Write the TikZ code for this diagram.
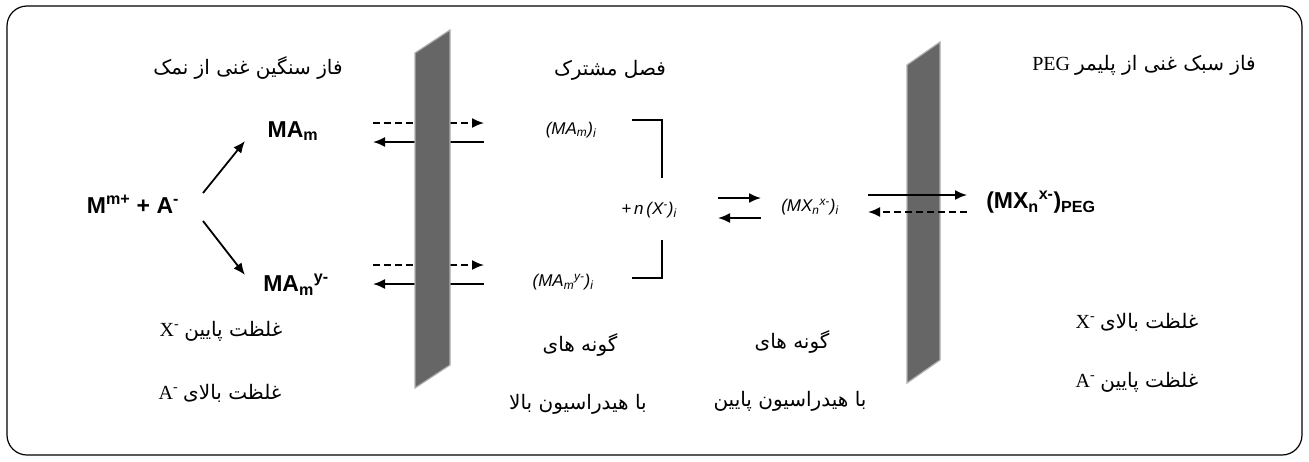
\documentclass[tikz,border=0pt]{standalone}
\usepackage{fontspec}
\setmainfont{Liberation Serif}
\setsansfont{Liberation Sans}
\newfontfamily\farsi[Script=Arabic]{DejaVu Sans}
\TeXXeTstate=1
\usetikzlibrary{arrows.meta}
\definecolor{wallgray}{RGB}{102,102,102}
\definecolor{walledge}{RGB}{175,175,175}
\newcommand{\fa}[1]{{\farsi\beginR #1\endR}}

\begin{document}
\begin{tikzpicture}
    [x=1pt,y=-1pt,
    chem/.style={font=\sffamily\bfseries\fontsize{23}{26}\selectfont},
    iface/.style={font=\sffamily\itshape\fontsize{17}{20}\selectfont},
    fatext/.style={font=\fontsize{20}{24}\selectfont},
    rxn/.style={-{Latex[length=12pt,width=10pt]},line width=1.8pt},
    back/.style={rxn,dash pattern=on 7pt off 4pt},
    wall/.style={fill=wallgray,draw=walledge,line width=1.2pt}]

    \useasboundingbox (0,0) rectangle (1309,461);
    \draw[line width=1.2pt,rounded corners=20pt] (7,6) rectangle (1302,455);

    % phase titles
    \node[fatext] (heavy) at (248,68) {\fa{فاز سنگین غنی از نمک}};
    \node[fatext] (interface) at (610,70) {\fa{فصل مشترک}};
    \node[fatext] (light) at (1144,65) {PEG~\fa{فاز سبک غنی از پلیمر}};

    % salt-rich phase
    \node[chem] (salt) at (133,204) {M\textsuperscript{m+} + A\textsuperscript{-}};
    \node[chem] (mam) at (293,131) {MA\textsubscript{m}};
    \node[chem] (may) at (296,285) {MA\textsubscript{m}\textsuperscript{y-}};
    \coordinate (s1) at (203,193); \coordinate (up) at (245,141);
    \coordinate (s2) at (203,221); \coordinate (down) at (245,275);
    \draw[rxn] (s1) -- (up);
    \draw[rxn] (s2) -- (down);

    % transfer across the first wall
    \coordinate (a1) at (373,123); \coordinate (b1) at (484,123);
    \coordinate (a2) at (373,142); \coordinate (b2) at (484,142);
    \coordinate (a3) at (373,265); \coordinate (b3) at (484,265);
    \coordinate (a4) at (373,284); \coordinate (b4) at (484,284);
    \draw[back] (a1) -- (b1);
    \draw[rxn] (b2) -- (a2);
    \draw[back] (a3) -- (b3);
    \draw[rxn] (b4) -- (a4);
    \draw[wall] (415,53) -- (450,30) -- (450,365) -- (415,388) -- cycle;

    % interface
    \node[iface] (ifa) at (571,130) {(MA\textsubscript{m})\textsubscript{i}};
    \node[iface] (ifb) at (563,282) {(MA\textsubscript{m}\textsuperscript{y-})\textsubscript{i}};
    \node[iface] (xion) at (649,210) {+\,n\,(X\textsuperscript{-})\textsubscript{i}};
    \coordinate (c1) at (632,120); \coordinate (c2) at (662,178);
    \coordinate (c3) at (662,240); \coordinate (c4) at (632,278);
    \draw[line width=1.8pt] (c1) -| (c2);
    \draw[line width=1.8pt] (c3) |- (c4);

    \node[iface] (ifx) at (810,207) {(MX\textsubscript{n}\textsuperscript{x-})\textsubscript{i}};
    \coordinate (d1) at (718,198); \coordinate (e1) at (761,198);
    \coordinate (d2) at (718,218); \coordinate (e2) at (761,218);
    \draw[rxn] (d1) -- (e1);
    \draw[rxn] (e2) -- (d2);

    % transfer across the second wall
    \draw[wall] (907,65) -- (940,42) -- (940,360) -- (907,383) -- cycle;
    \node[chem] (peg) at (1041,202) {(MX\textsubscript{n}\textsuperscript{x-})\textsubscript{PEG}};
    \coordinate (f1) at (868,195); \coordinate (g1) at (967,195);
    \coordinate (f2) at (868,212); \coordinate (g2) at (967,212);
    \draw[rxn] (f1) -- (g1);
    \draw[back] (g2) -- (f2);

    % concentrations and species
    \node[fatext] (lowx) at (221,331) {X\textsuperscript{-}~\fa{غلظت پایین}};
    \node[fatext] (higha) at (220,393) {A\textsuperscript{-}~\fa{غلظت بالای}};
    \node[fatext] (sp1) at (580,345) {\fa{گونه های}};
    \node[fatext] (hyd1) at (578,404) {\fa{با هیدراسیون بالا}};
    \node[fatext] (sp2) at (792,342) {\fa{گونه های}};
    \node[fatext] (hyd2) at (790,401) {\fa{با هیدراسیون پایین}};
    \node[fatext] (highx) at (1137,322) {X\textsuperscript{-}~\fa{غلظت بالای}};
    \node[fatext] (lowa) at (1137,382) {A\textsuperscript{-}~\fa{غلظت پایین}};
\end{tikzpicture}
\end{document}
